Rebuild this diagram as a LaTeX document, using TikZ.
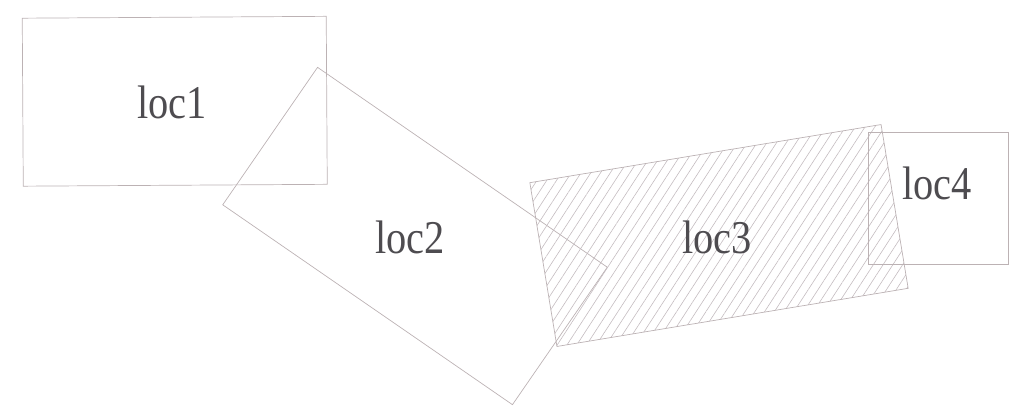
\documentclass[tikz,border=0pt]{standalone}
\usepackage{fontspec}
\setmainfont{Liberation Serif}
\usetikzlibrary{patterns.meta}
\definecolor{edge}{RGB}{188,178,180}
\definecolor{hatch}{RGB}{196,188,192}
\definecolor{ink}{RGB}{78,76,80}
\tikzset{
  locbox/.style={draw=edge, line width=0.7pt, inner sep=0pt, fill=none},
  loclabel/.style={text=ink, inner sep=0pt, font=\fontsize{47}{56}\selectfont, xscale=0.86},
  hatched/.style={pattern={Lines[angle=57,distance=8.2pt,line width=0.6pt]}, pattern color=hatch}
}
\begin{document}
\begin{tikzpicture}[x=1pt,y=-1pt]
\useasboundingbox (0,0) rectangle (1009,405);
% boxes
\node[locbox, minimum width=304pt, minimum height=168pt, rotate=0.35] (loc1) at (174.75,101.25) {};
\node[locbox, minimum width=352pt, minimum height=167pt, rotate=-34.6] (loc2) at (415,236) {};
\node[locbox, hatched, minimum width=356pt, minimum height=166pt, rotate=9.4] (loc3) at (719,235.5) {};
\node[locbox, minimum width=140pt, minimum height=132pt] (loc4) at (938,198) {};
% labels
\node[loclabel] (t1) at (172,102) {loc1};
\node[loclabel] (t2) at (410,237) {loc2};
\node[loclabel] (t3) at (717,237) {loc3};
\node[loclabel] (t4) at (937,183) {loc4};
\end{tikzpicture}
\end{document}
